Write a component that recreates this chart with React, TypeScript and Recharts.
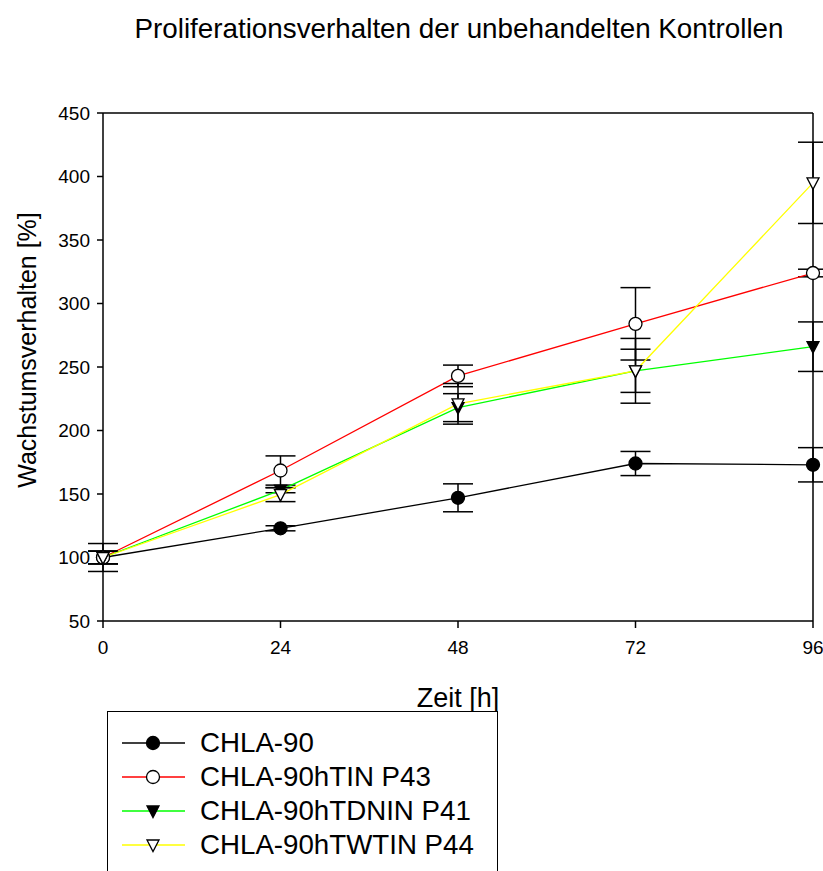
import React from 'react';
import {
  LineChart,
  Line,
  XAxis,
  YAxis,
  ErrorBar,
  ReferenceLine,
} from 'recharts';

const hours = [0, 24, 48, 72, 96];
const yTicks = [50, 100, 150, 200, 250, 300, 350, 400, 450];

// Mittelwerte und Standardabweichungen
const chla90 = [100, 123, 147, 174, 173];
const chla90Err = [11, 2, 11, 9.5, 13.5];
const htin = [100, 168.5, 243, 284, 324];
const htinErr = [5, 11.5, 8.5, 28.5, 3];
const htdnin = [100, 153, 218, 247, 266];
const htdninErr = [5, 2, 11, 17, 19.5];
const htwtin = [100, 149.5, 221, 247, 395];
const htwtinErr = [5, 5.5, 16, 25.5, 32];

type Shape = 'circle' | 'openCircle' | 'triangle' | 'openTriangle';

const series: { key: string; name: string; color: string; shape: Shape }[] = [
  { key: 'chla90', name: 'CHLA-90', color: '#000000', shape: 'circle' },
  { key: 'htin', name: 'CHLA-90hTIN P43', color: '#ff0000', shape: 'openCircle' },
  { key: 'htdnin', name: 'CHLA-90hTDNIN P41', color: '#00ff00', shape: 'triangle' },
  { key: 'htwtin', name: 'CHLA-90hTWTIN P44', color: '#ffff00', shape: 'openTriangle' },
];

const data = hours.map((h, i) => ({
  h,
  chla90: chla90[i],
  chla90Err: chla90Err[i],
  htin: htin[i],
  htinErr: htinErr[i],
  htdnin: htdnin[i],
  htdninErr: htdninErr[i],
  htwtin: htwtin[i],
  htwtinErr: htwtinErr[i],
}));

const FONT = '"Liberation Sans", Arial, sans-serif';

function Marker({ cx, cy, shape }: { cx: number; cy: number; shape: Shape }) {
  const fill = shape === 'circle' || shape === 'triangle' ? '#000' : '#fff';
  if (shape === 'circle' || shape === 'openCircle') {
    return <circle cx={cx} cy={cy} r={6.5} fill={fill} stroke="#000" strokeWidth={1.3} />;
  }
  const pts = `${cx - 6},${cy - 5} ${cx + 6},${cy - 5} ${cx},${cy + 6.5}`;
  return <polygon points={pts} fill={fill} stroke="#000" strokeWidth={1.3} />;
}

function LegendBox() {
  return (
    <div
      style={{
        position: 'absolute',
        left: 107,
        top: 711,
        width: 391,
        height: 200,
        border: '1px solid #000',
        background: '#fff',
        fontFamily: FONT,
        fontSize: 27.7,
        paddingTop: 14,
        boxSizing: 'border-box',
      }}
    >
      {series.map((s) => (
        <div key={s.key} style={{ display: 'flex', alignItems: 'center', height: 34, lineHeight: '34px' }}>
          <svg width={79} height={20} style={{ marginLeft: 13, flex: 'none' }}>
            <line x1={1} x2={64} y1={10} y2={10} stroke={s.color} strokeWidth={1.5} />
            <Marker cx={32} cy={10} shape={s.shape} />
          </svg>
          <span style={{ color: '#000', whiteSpace: 'nowrap' }}>{s.name}</span>
        </div>
      ))}
    </div>
  );
}

export default function App() {
  return (
    <div style={{ position: 'absolute', left: 0, top: 0, width: 823, height: 871, overflow: 'hidden', background: '#fff' }}>
      <LineChart
        width={823}
        height={871}
        data={data}
        margin={{ top: 113, right: 10, bottom: 150, left: 0 }}
        style={{ fontFamily: FONT }}
      >
        <text x={459} y={38} textAnchor="middle" fontSize={27.8} fill="#000" fontFamily={FONT}>
          Proliferationsverhalten der unbehandelten Kontrollen
        </text>
        <text x={458} y={707} textAnchor="middle" fontSize={27} fill="#000" fontFamily={FONT}>
          Zeit [h]
        </text>
        <text
          x={0}
          y={0}
          transform="translate(36, 350) rotate(-90)"
          textAnchor="middle"
          fontSize={25}
          fill="#000"
          fontFamily={FONT}
        >
          Wachstumsverhalten [%]
        </text>
        <XAxis
          dataKey="h"
          type="number"
          domain={[0, 96]}
          ticks={hours}
          stroke="#000"
          strokeWidth={1.5}
          tickSize={7}
          tickMargin={13}
          tick={{ fill: '#000', fontSize: 19 }}
          height={100}
        />
        <YAxis
          type="number"
          domain={[50, 450]}
          ticks={yTicks}
          stroke="#000"
          strokeWidth={1.5}
          tickSize={6}
          tickMargin={7}
          tick={{ fill: '#000', fontSize: 19 }}
          width={103}
          allowDataOverflow
        />
        <ReferenceLine y={450} stroke="#000" strokeWidth={1.5} />
        <ReferenceLine x={96} stroke="#000" strokeWidth={1.5} />
        {series.map((s) => (
          <Line
            key={s.key}
            dataKey={s.key}
            name={s.name}
            stroke={s.color}
            strokeWidth={1.3}
            isAnimationActive={false}
            dot={(p: any) => <Marker key={`${s.key}-${p.index}`} cx={p.cx} cy={p.cy} shape={s.shape} />}
            activeDot={false}
          >
            <ErrorBar dataKey={`${s.key}Err`} width={15} stroke="#000" strokeWidth={1.5} direction="y" />
          </Line>
        ))}
      </LineChart>
      <LegendBox />
    </div>
  );
}
